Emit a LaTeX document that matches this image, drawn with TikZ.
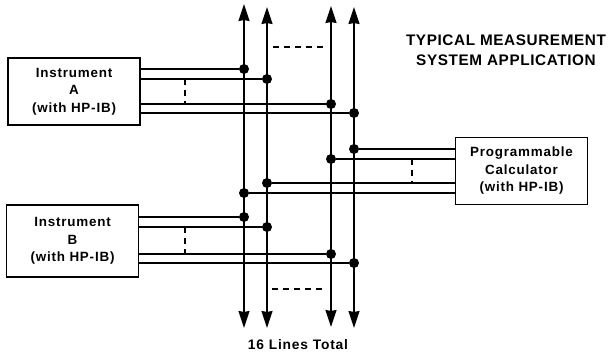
\documentclass[tikz,border=0pt]{standalone}
\usepackage{fontspec}
\setmainfont{Liberation Sans}[LetterSpace=6]
\newfontfamily\titlefont{Liberation Sans}[LetterSpace=4]
\usetikzlibrary{arrows.meta}
\tikzset{
    busline/.style={line width=1.5pt},
    boxnode/.style={draw, line width=1.5pt, minimum width=132pt, minimum height=67pt,
        inner sep=0pt, align=center, font=\fontsize{13.4}{17.5}\selectfont\bfseries},
    dotnode/.style={circle, fill=black, inner sep=0pt, minimum size=10pt},
    titlenode/.style={align=center, font=\titlefont\fontsize{15.3}{20}\selectfont\bfseries},
}
\begin{document}
\begin{tikzpicture}[x=1pt, y=-1pt, >={Stealth[length=17pt, width=11pt, inset=1pt]}]
    \useasboundingbox (0,0) rectangle (608,352);

    \node[boxnode] (boxa) at (74,91.5) {Instrument\\A\\(with HP-IB)};
    \node[boxnode, minimum height=72pt] (boxb) at (72.5,241) {Instrument\\B\\(with HP-IB)};
    \node[boxnode] (boxc) at (521.5,171) {Programmable\\Calculator\\(with HP-IB)};

    % bus lines
    \foreach \name/\x/\tip/\tail in {p/244/4/328,q/267/7/328,r/331/6/327,s/354/7/328} {
        \coordinate (top\name) at (\x,\tip);
        \coordinate (bot\name) at (\x,\tail);
        \draw[<->, busline] (top\name) -- (bot\name);
    }

    % taps onto the bus
    \foreach \name/\bus/\y/\from in {
        aa/p/69/boxa.east,ab/q/79/boxa.east,ac/r/104/boxa.east,ad/s/113/boxa.east,
        ba/p/217/boxb.east,bb/q/227/boxb.east,bc/r/254/boxb.east,bd/s/263/boxb.east,
        ca/s/149/boxc.west,cb/r/159/boxc.west,cc/q/183/boxc.west,cd/p/193/boxc.west} {
        \node[dotnode] (dot\name) at (top\bus |- 0,\y) {};
        \draw[busline] (dot\name) -- (dot\name -| \from);
    }

    % dashes
    \coordinate (dashaa) at (185,79);
    \coordinate (dashab) at (185,104);
    \coordinate (dashba) at (185,227);
    \coordinate (dashbb) at (185,254);
    \coordinate (dashca) at (412,159);
    \coordinate (dashcb) at (412,183);
    \coordinate (dashta) at (273,47);
    \coordinate (dashtb) at (325,47);
    \coordinate (dashua) at (272,289);
    \coordinate (dashub) at (325,289);
    \foreach \a/\b in {dashaa/dashab,dashba/dashbb,dashca/dashcb,dashta/dashtb,dashua/dashub} {
        \draw[busline, dash pattern=on 6pt off 5pt] (\a) -- (\b);
    }

    \node[titlenode] (title) at (506,50) {TYPICAL MEASUREMENT\\SYSTEM APPLICATION};
    \node[font=\fontsize{13.8}{14}\selectfont\bfseries] (total) at (298,345) {16 Lines Total};
\end{tikzpicture}
\end{document}
